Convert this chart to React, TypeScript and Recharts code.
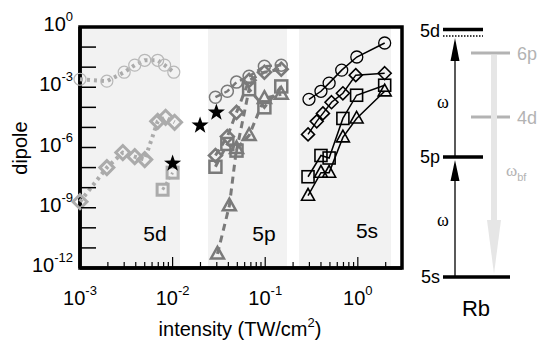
import React from "react";
import {
  ScatterChart,
  Scatter,
  XAxis,
  YAxis,
  ReferenceArea,
  CartesianGrid,
} from "recharts";

const FONT = '"Liberation Sans", Arial, Helvetica, sans-serif';
const SERIF = "'Liberation Serif', 'DejaVu Serif', serif";

const X_DOMAIN = [0.001, 3];
const Y_DOMAIN = [1e-12, 1];

// x ticks: 1..9 per decade from 1e-3 up to 2
const xTicks = [
  0.001, 0.002, 0.003, 0.004, 0.005, 0.006, 0.007, 0.008, 0.009,
  0.01, 0.02, 0.03, 0.04, 0.05, 0.06, 0.07, 0.08, 0.09,
  0.1, 0.2, 0.3, 0.4, 0.5, 0.6, 0.7, 0.8, 0.9,
  1, 2,
];
const yTicks = [1e-12, 1e-11, 1e-10, 1e-9, 1e-8, 1e-7, 1e-6, 1e-5, 1e-4, 1e-3, 1e-2, 1e-1, 1];
const yLabelExps = [0, -3, -6, -9, -12];

// shaded region edges (intensity): 5d | gap | 5p | gap | 5s | gap
const regionEdges = [0.001, 0.012, 0.024, 0.17, 0.23, 2.3];

// 5d resonance (light gray)
const d5Circles = [
  { x: 0.001, y: 2.5e-3 }, { x: 0.00195, y: 2e-3 }, { x: 0.003, y: 5.6e-3 },
  { x: 0.0039, y: 1.26e-2 }, { x: 0.005, y: 2.2e-2 }, { x: 0.0069, y: 2.2e-2 },
  { x: 0.0082, y: 1.26e-2 }, { x: 0.0103, y: 5.6e-3 },
];
const d5Diamonds = [
  { x: 0.001, y: 2e-9 }, { x: 0.00195, y: 1e-7 }, { x: 0.0029, y: 5.6e-7 },
  { x: 0.0039, y: 3.5e-7 }, { x: 0.005, y: 2.5e-7 }, { x: 0.0069, y: 2e-5 },
  { x: 0.0084, y: 3.2e-5 }, { x: 0.0105, y: 1.8e-5 },
];
const d5Squares = [{ x: 0.0078, y: 7.9e-9 }, { x: 0.01, y: 5.6e-8 }];
const stars = [{ x: 0.01, y: 1.6e-7 }, { x: 0.0198, y: 1.26e-5 }, { x: 0.0297, y: 5.6e-5 }];

// 5p resonance (mid gray)
const p5Circles = [
  { x: 0.029, y: 3.2e-4 }, { x: 0.039, y: 6.3e-4 }, { x: 0.049, y: 1.8e-3 },
  { x: 0.067, y: 3.5e-3 }, { x: 0.098, y: 1.1e-2 }, { x: 0.149, y: 1.26e-2 },
];
const p5Diamonds = [
  { x: 0.029, y: 4e-7 }, { x: 0.039, y: 3.5e-6 }, { x: 0.049, y: 5.6e-5 },
  { x: 0.067, y: 2.2e-3 }, { x: 0.098, y: 5.6e-3 }, { x: 0.149, y: 7.9e-3 },
];
const p5Squares = [
  { x: 0.029, y: 1.1e-7 }, { x: 0.039, y: 1.5e-6 }, { x: 0.049, y: 7e-7 },
  { x: 0.067, y: 8e-4 }, { x: 0.098, y: 1e-4 }, { x: 0.149, y: 1.1e-3 },
];
const p5Triangles = [
  { x: 0.0305, y: 5e-12 }, { x: 0.041, y: 1.26e-9 }, { x: 0.049, y: 8.9e-7 },
  { x: 0.067, y: 4e-6 }, { x: 0.098, y: 2.8e-4 }, { x: 0.149, y: 4.5e-4 },
];

// 5s (black)
const s5Circles = [
  { x: 0.297, y: 2.5e-4 }, { x: 0.4, y: 6.3e-4 }, { x: 0.49, y: 1.6e-3 },
  { x: 0.67, y: 7.1e-3 }, { x: 0.975, y: 3.2e-2 }, { x: 1.95, y: 0.16 },
];
const s5Diamonds = [
  { x: 0.29, y: 4.5e-6 }, { x: 0.36, y: 2e-5 }, { x: 0.42, y: 5e-5 },
  { x: 0.52, y: 1.8e-4 }, { x: 0.69, y: 5e-4 }, { x: 0.95, y: 4e-3 },
  { x: 1.95, y: 5e-3 },
];
const s5Squares = [
  { x: 0.29, y: 3.5e-8 }, { x: 0.4, y: 4e-7 }, { x: 0.49, y: 3e-7 },
  { x: 0.69, y: 2.8e-5 }, { x: 0.97, y: 4e-4 }, { x: 1.95, y: 1.26e-3 },
];
const s5Triangles = [
  { x: 0.29, y: 4e-9 }, { x: 0.4, y: 5.6e-8 }, { x: 0.49, y: 5.6e-8 },
  { x: 0.69, y: 3.2e-6 }, { x: 0.97, y: 2.8e-5 }, { x: 1.95, y: 6.3e-4 },
];

const LIGHT = "#ababab";
const MID = "#7a7a7a";

type Kind = "circle" | "diamond" | "square" | "triangle" | "star";

const marker = (kind: Kind, color: string, sw: number, r: number) => (props: any) => {
  const { cx, cy } = props;
  if (cx == null || cy == null) return <g />;
  if (kind === "circle")
    return <circle cx={cx} cy={cy} r={r} fill="none" stroke={color} strokeWidth={sw} />;
  if (kind === "diamond")
    return (
      <polygon
        points={`${cx},${cy - r} ${cx + r},${cy} ${cx},${cy + r} ${cx - r},${cy}`}
        fill="none"
        stroke={color}
        strokeWidth={sw}
      />
    );
  if (kind === "square")
    return (
      <rect x={cx - r} y={cy - r} width={2 * r} height={2 * r} fill="none" stroke={color} strokeWidth={sw} />
    );
  if (kind === "triangle")
    return (
      <polygon
        points={`${cx},${cy - r * 1.1} ${cx + r},${cy + r * 0.7} ${cx - r},${cy + r * 0.7}`}
        fill="none"
        stroke={color}
        strokeWidth={sw}
      />
    );
  // filled 5-point star
  const pts: string[] = [];
  for (let i = 0; i < 10; i++) {
    const rad = i % 2 === 0 ? r : r * 0.4;
    const a = -Math.PI / 2 + (i * Math.PI) / 5;
    pts.push(`${cx + rad * Math.cos(a)},${cy + rad * Math.sin(a)}`);
  }
  return <polygon points={pts.join(" ")} fill={color} />;
};

// band edges -> pixels, through the axis scale when the grid hands it over
const bandEdges = ({ xAxis, offset }: any) => {
  const s = xAxis?.scale;
  if (typeof s === "function") return regionEdges.map((v) => s(v));
  if (s && typeof s.map === "function") return regionEdges.map((v) => s.map(v));
  const lo = Math.log10(X_DOMAIN[0]);
  const hi = Math.log10(X_DOMAIN[1]);
  return regionEdges.map((v) => offset.left + ((Math.log10(v) - lo) / (hi - lo)) * offset.width);
};

const isDecade = (v: number) => Math.abs(Math.log10(v) - Math.round(Math.log10(v))) < 1e-6;

const Pow = ({ x, y, exp, anchor }: { x: number; y: number; exp: number; anchor: string }) => (
  <text x={x} y={y} textAnchor={anchor} fontFamily={FONT} fill="#000">
    <tspan fontSize={20}>10</tspan>
    <tspan fontSize={13} dy={-10}>{exp}</tspan>
  </text>
);

const XTick = (props: any) => {
  const { x, y, payload } = props;
  const v = payload.value;
  const major = isDecade(v);
  return (
    <g>
      <line x1={x} x2={x} y1={y - 1} y2={y - (major ? 11 : 6)} stroke="#000" strokeWidth={1.2} />
      {major && <Pow x={x} y={y + 37} exp={Math.round(Math.log10(v))} anchor="middle" />}
    </g>
  );
};

const YTick = (props: any) => {
  const { x, y, payload } = props;
  const exp = Math.round(Math.log10(payload.value));
  return (
    <g>
      <line x1={x + 1} x2={x + 16} y1={y} y2={y} stroke="#000" strokeWidth={1.5} />
      {yLabelExps.includes(exp) && <Pow x={x - 7} y={y + 4} exp={exp} anchor="end" />}
    </g>
  );
};

const EnergyDiagram = () => (
  <svg
    width={541}
    height={348}
    style={{ position: "absolute", left: 0, top: 0, pointerEvents: "none" }}
    fontFamily={FONT}
  >
    {/* axis titles and region names */}
    <text x={240} y={336} textAnchor="middle" fontSize={20}>
      intensity (TW/cm<tspan fontSize={13} dy={-9}>2</tspan>
      <tspan dy={9}>)</tspan>
    </text>
    <text x={27} y={148} textAnchor="middle" fontSize={20} transform="rotate(-90 27 148)">
      dipole
    </text>
    <text x={155} y={241} textAnchor="middle" fontSize={21}>5d</text>
    <text x={264} y={241} textAnchor="middle" fontSize={21}>5p</text>
    <text x={367} y={238} textAnchor="middle" fontSize={21}>5s</text>

    {/* levels */}
    <line x1={443} x2={483} y1={29.5} y2={29.5} stroke="#000" strokeWidth={3.5} />
    <line x1={443} x2={483} y1={36} y2={36} stroke="#000" strokeWidth={1.5} strokeDasharray="1.5 1.5" />
    <line x1={443} x2={483} y1={157} y2={157} stroke="#000" strokeWidth={3.5} />
    <line x1={443} x2={510} y1={277} y2={277} stroke="#000" strokeWidth={3.5} />
    <line x1={471} x2={510} y1={53} y2={53} stroke="#b3b3b3" strokeWidth={3} />
    <line x1={471} x2={510} y1={117} y2={117} stroke="#b3b3b3" strokeWidth={3} />
    <text x={440} y={37} textAnchor="end" fontSize={18}>5d</text>
    <text x={440} y={163} textAnchor="end" fontSize={18}>5p</text>
    <text x={440} y={283} textAnchor="end" fontSize={18}>5s</text>
    <text x={517} y={60} fontSize={18} fill="#b3b3b3">6p</text>
    <text x={517} y={124} fontSize={18} fill="#b3b3b3">4d</text>

    {/* gray fluorescence arrow */}
    <line x1={494} x2={494} y1={55} y2={222} stroke="#e6e6e6" strokeWidth={6} />
    <polygon points="487,220 501,220 494,274" fill="#e6e6e6" />

    {/* black excitation arrows */}
    <line x1={455} x2={455} y1={277} y2={180} stroke="#000" strokeWidth={1.3} />
    <polygon points="455,160 450.5,181 459.5,181" fill="#000" />
    <line x1={455} x2={455} y1={157} y2={60} stroke="#000" strokeWidth={1.3} />
    <polygon points="455,38 450.5,61 459.5,61" fill="#000" />

    <text x={443} y={108} textAnchor="middle" fontSize={18} fontFamily={SERIF}>ω</text>
    <text x={443} y={226} textAnchor="middle" fontSize={18} fontFamily={SERIF}>ω</text>
    <text x={506} y={176} fontSize={17} fill="#b3b3b3" fontFamily={SERIF}>
      ω<tspan fontSize={11} dy={5} fontFamily={FONT}>bf</tspan>
    </text>
    <text x={476} y={316} textAnchor="middle" fontSize={22}>Rb</text>
  </svg>
);

export default function App() {
  return (
    <div style={{ position: "absolute", left: 0, top: 0, width: 541, height: 348, background: "#fff" }}>
      <ScatterChart width={541} height={348} margin={{ top: 27, right: 139, bottom: 50, left: 0 }}>
        {/* light gray bands behind the 5d / 5p / 5s regimes */}
        <CartesianGrid
          horizontal={false}
          stroke="none"
          verticalCoordinatesGenerator={bandEdges}
          verticalFill={["#f2f2f2", "#ffffff"]}
          fillOpacity={1}
        />
        <XAxis
          type="number"
          dataKey="x"
          scale="log"
          domain={X_DOMAIN}
          ticks={xTicks}
          interval={0}
          tick={<XTick />}
          tickLine={false}
          tickSize={0}
          tickMargin={0}
          height={30}
          axisLine={{ stroke: "#000", strokeWidth: 3.5 }}
        />
        <YAxis
          type="number"
          dataKey="y"
          scale="log"
          domain={Y_DOMAIN}
          ticks={yTicks}
          interval={0}
          tick={<YTick />}
          tickLine={false}
          tickSize={0}
          tickMargin={0}
          width={80}
          axisLine={{ stroke: "#000", strokeWidth: 3.5 }}
        />
        <ReferenceArea
          x1={X_DOMAIN[0]}
          x2={X_DOMAIN[1]}
          y1={Y_DOMAIN[0]}
          y2={Y_DOMAIN[1]}
          fill="none"
          stroke="#000"
          strokeWidth={3.5}
        />

        <Scatter data={d5Circles} isAnimationActive={false} line={{ stroke: LIGHT, strokeWidth: 4, strokeDasharray: "3 4" }} lineType="joint" shape={marker("circle", "#b8b8b8", 1.2, 6)} />
        <Scatter data={d5Diamonds} isAnimationActive={false} line={{ stroke: LIGHT, strokeWidth: 4, strokeDasharray: "3 4" }} lineType="joint" shape={marker("diamond", LIGHT, 3, 7)} />
        <Scatter data={d5Squares} isAnimationActive={false} line={{ stroke: LIGHT, strokeWidth: 3, strokeDasharray: "3 3" }} lineType="joint" shape={marker("square", LIGHT, 3, 5.5)} />

        <Scatter data={p5Circles} isAnimationActive={false} line={{ stroke: MID, strokeWidth: 2.5, strokeDasharray: "6 4" }} lineType="joint" shape={marker("circle", MID, 1.5, 6)} />
        <Scatter data={p5Diamonds} isAnimationActive={false} line={{ stroke: MID, strokeWidth: 3, strokeDasharray: "7 5" }} lineType="joint" shape={marker("diamond", MID, 2.5, 6.5)} />
        <Scatter data={p5Squares} isAnimationActive={false} line={{ stroke: MID, strokeWidth: 3, strokeDasharray: "7 5" }} lineType="joint" shape={marker("square", MID, 2.5, 6)} />
        <Scatter data={p5Triangles} isAnimationActive={false} line={{ stroke: MID, strokeWidth: 3, strokeDasharray: "7 5" }} lineType="joint" shape={marker("triangle", MID, 2.5, 6.5)} />

        <Scatter data={s5Circles} isAnimationActive={false} line={{ stroke: "#000", strokeWidth: 1.5 }} lineType="joint" shape={marker("circle", "#000", 1.3, 6)} />
        <Scatter data={s5Diamonds} isAnimationActive={false} line={{ stroke: "#000", strokeWidth: 1.5 }} lineType="joint" shape={marker("diamond", "#000", 1.6, 6.5)} />
        <Scatter data={s5Squares} isAnimationActive={false} line={{ stroke: "#000", strokeWidth: 1.5 }} lineType="joint" shape={marker("square", "#000", 1.6, 6)} />
        <Scatter data={s5Triangles} isAnimationActive={false} line={{ stroke: "#000", strokeWidth: 1.5 }} lineType="joint" shape={marker("triangle", "#000", 1.6, 6.5)} />

        <Scatter data={stars} isAnimationActive={false} shape={marker("star", "#000", 0, 9)} />
      </ScatterChart>
      <EnergyDiagram />
    </div>
  );
}
